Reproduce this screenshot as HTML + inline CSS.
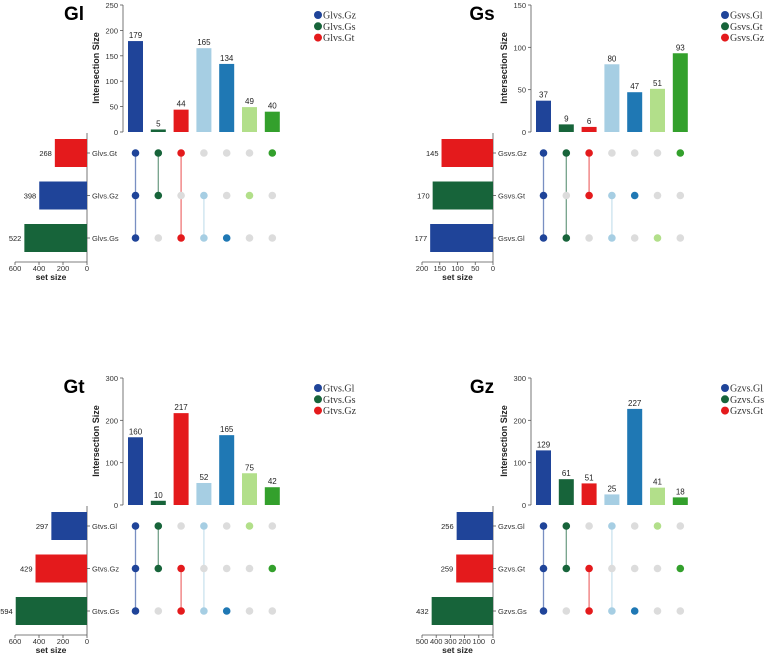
<!DOCTYPE html>
<html><head><meta charset="utf-8"><style>
body{margin:0;background:#fff;}
svg{display:block;font-family:"Liberation Sans",sans-serif;}
</style></head><body>
<svg id="chart" width="767" height="655" viewBox="0 0 767 655"></svg>
<script>
// Panel data
const titles = ["Gl","Gs","Gt","Gz"];
const legendNames = [["Glvs.Gz","Glvs.Gs","Glvs.Gt"],["Gsvs.Gl","Gsvs.Gt","Gsvs.Gz"],["Gtvs.Gl","Gtvs.Gs","Gtvs.Gz"],["Gzvs.Gl","Gzvs.Gs","Gzvs.Gt"]];
const setNames = [["Glvs.Gt","Glvs.Gz","Glvs.Gs"],["Gsvs.Gz","Gsvs.Gt","Gsvs.Gl"],["Gtvs.Gl","Gtvs.Gz","Gtvs.Gs"],["Gzvs.Gl","Gzvs.Gt","Gzvs.Gs"]];
const setSizes = [[268,398,522],[145,170,177],[297,429,594],[256,259,432]];
const setColorIdx = [[2,0,1],[2,1,0],[0,2,1],[0,2,1]];
const intersections = [[179,5,44,165,134,49,40],[37,9,6,80,47,51,93],[160,10,217,52,165,75,42],[129,61,51,25,227,41,18]];
const membership = [
 [[0,1,2],[0,1],[0,2],[1,2],[2],[1],[0]],
 [[0,1,2],[0,2],[0,1],[1,2],[1],[2],[0]],
 [[0,1,2],[0,1],[1,2],[0,2],[2],[0],[1]],
 [[0,1,2],[0,1],[1,2],[0,2],[2],[0],[1]]
];
const yTicks = [[0,50,100,150,200,250],[0,50,100,150],[0,100,200,300],[0,100,200,300]];
const setTicks = [[600,400,200,0],[200,150,100,50,0],[600,400,200,0],[500,400,300,200,100,0]];
const yMax = [250,150,300,300];
const setMax = [600,200,600,500];

const colColors=["#1f4499","#17643a","#e41a1c","#a6cee3","#1f78b4","#b2df8a","#33a02c"];
const setColors=["#1f4499","#17643a","#e41a1c"];
const layout=[{ox:123,oy:0,sx:87,sl:15,tx:74,lx:318},{ox:531,oy:0,sx:493,sl:422,tx:482,lx:725},
{ox:123,oy:373,sx:87,sl:15,tx:74,lx:318},{ox:531,oy:373,sx:493,sl:422,tx:482,lx:725}];
const svg=document.getElementById('chart');
const NS="http://www.w3.org/2000/svg";
function mk(tag,attrs,parent){const e=document.createElementNS(NS,tag);for(const k in attrs)e.setAttribute(k,attrs[k]);(parent||svg).appendChild(e);return e;}
function txt(s,attrs,parent){const e=mk('text',attrs,parent);e.textContent=s;return e;}

layout.forEach((L,p)=>{
  const g=mk('g',{});
  
  
  const top=L.oy+5, base=L.oy+132;
  const y=v=>base-(v/yMax[p])*(base-top);
  const bx=i=>L.ox+12.5+i*22.8;
  const rowY=r=>L.oy+153+r*42.5;
  const sxs=v=>L.sx-(v/setMax[p])*(L.sx-L.sl);
  const t=txt(titles[p],{x:L.tx,y:L.oy+20,'font-size':19,'font-weight':'bold','text-anchor':'middle',fill:'#000'},g);
  
  
  const ax=mk('line',{x1:L.ox,y1:top,x2:L.ox,y2:base,stroke:'#555','stroke-width':0.8},g);
  
  
  yTicks[p].forEach(v=>{
    mk('line',{x1:L.ox-3,y1:y(v),x2:L.ox,y2:y(v),stroke:'#555','stroke-width':0.8},g);
    const tl=txt(v,{x:L.ox-5,y:y(v)+3,'font-size':7.5,'text-anchor':'end',fill:'#333'},g);
    
    
  });
  const yt=txt('Intersection Size',{transform:`translate(${L.ox-24},${L.oy+68}) rotate(-90)`,'font-size':9,'font-weight':'bold','text-anchor':'middle',fill:'#222'},g);
  
  
  intersections[p].forEach((v,i)=>{
    const r=mk('rect',{x:bx(i)-7.5,y:y(v),width:15,height:base-y(v),fill:colColors[i]},g);
    
    
    const l=txt(v,{x:bx(i),y:y(v)-3,'font-size':8,'text-anchor':'middle',fill:'#222'},g);
    
    
  });
  membership[p].forEach((m,i)=>{
    if(m.length>1){
      const ln=mk('line',{x1:bx(i),y1:rowY(Math.min(...m)),x2:bx(i),y2:rowY(Math.max(...m)),stroke:colColors[i],'stroke-opacity':0.6,'stroke-width':1.3},g);
      
      
    }
    for(let r=0;r<3;r++){
      const on=m.includes(r);
      const c=mk('circle',{cx:bx(i),cy:rowY(r),r:3.8,fill:on?colColors[i]:'#dcdcdc'},g);
      
      
    }
  });
  const sa=mk('line',{x1:L.sx,y1:L.oy+133,x2:L.sx,y2:L.oy+262,stroke:'#555','stroke-width':0.8},g);
  
  
  mk('line',{x1:L.sl,y1:L.oy+262,x2:L.sx,y2:L.oy+262,stroke:'#555','stroke-width':0.8},g);
  setTicks[p].forEach(v=>{
    mk('line',{x1:sxs(v),y1:L.oy+262,x2:sxs(v),y2:L.oy+265,stroke:'#555','stroke-width':0.8},g);
    const tl=txt(v,{x:sxs(v),y:L.oy+271,'font-size':7.5,'text-anchor':'middle',fill:'#333'},g);
    
    
  });
  const st=txt('set size',{x:(L.sl+L.sx)/2,y:L.oy+280,'font-size':8.5,'font-weight':'bold','text-anchor':'middle',fill:'#222'},g);
  
  
  setSizes[p].forEach((v,r)=>{
    const b=mk('rect',{x:sxs(v),y:rowY(r)-14,width:L.sx-sxs(v),height:28,fill:setColors[setColorIdx[p][r]]},g);
    
    
    const l=txt(v,{x:sxs(v)-3,y:rowY(r)+3,'font-size':7.5,'text-anchor':'end',fill:'#222'},g);
    
    
    mk('line',{x1:L.sx,y1:rowY(r),x2:L.sx+3,y2:rowY(r),stroke:'#555','stroke-width':0.8},g);
    const n=txt(setNames[p][r],{x:L.sx+5,y:rowY(r)+3,'font-size':7.5,fill:'#333'},g);
    
    
  });
  legendNames[p].forEach((nm,k)=>{
    const ly=L.oy+15+k*11.3;
    const c=mk('circle',{cx:L.lx,cy:ly,r:4,fill:setColors[k]},g);
    
    
    const tl=txt(nm,{x:L.lx+5,y:ly+3.5,'font-size':10,'font-family':'Liberation Serif, serif',fill:'#333'},g);
    
    
  });
});
</script>
</body></html>
